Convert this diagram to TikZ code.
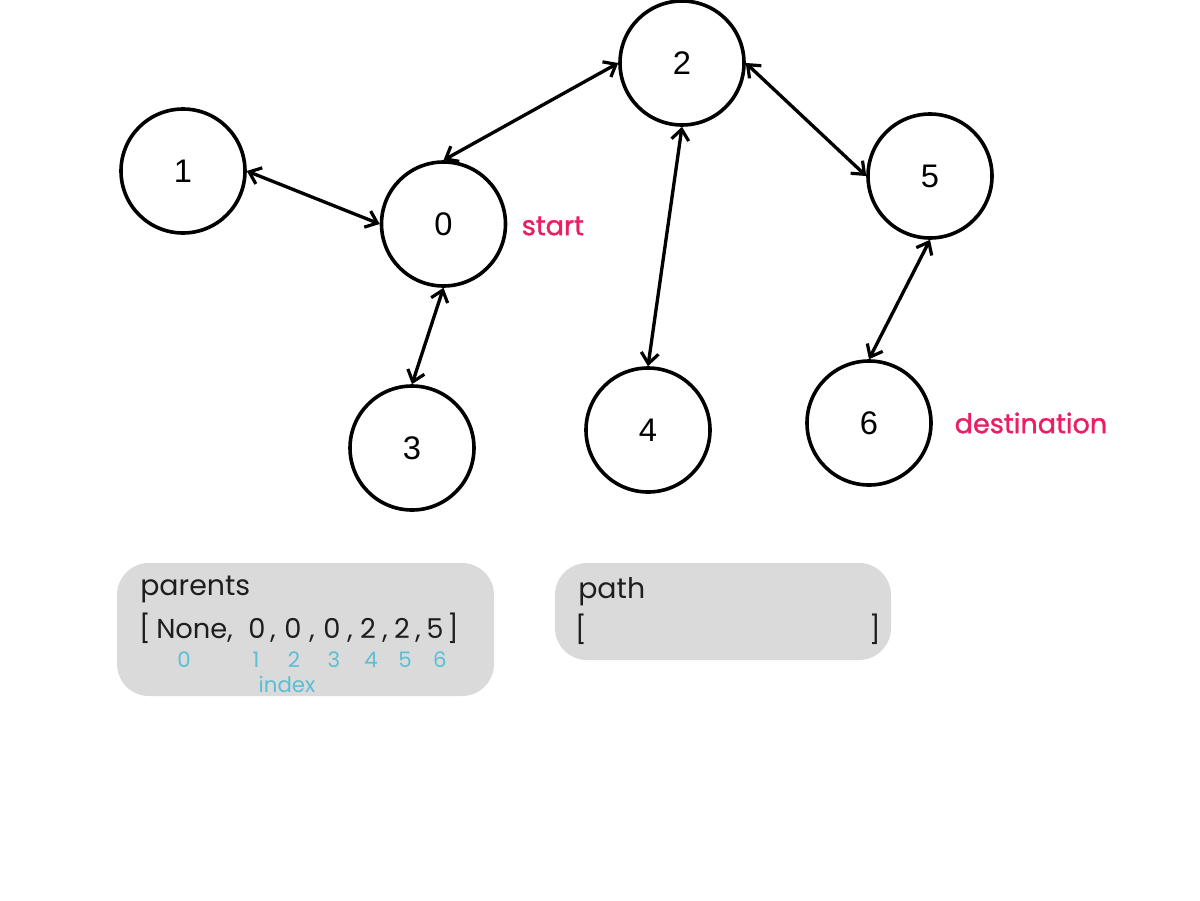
\documentclass[tikz,border=0pt]{standalone}
\usepackage{fontspec}
\setmainfont{Liberation Sans}
\newfontfamily\boxfont{Poppins}
\newfontfamily\tagfont[FakeBold=1.2]{Poppins}
\usetikzlibrary{arrows.meta}
\definecolor{tagpink}{RGB}{233,30,99}
\definecolor{idxblue}{RGB}{92,190,212}
\definecolor{panel}{RGB}{218,218,218}
\definecolor{ink}{RGB}{30,30,30}
\tikzset{
  vertex/.style={circle, draw=black, line width=2.7pt, minimum size=93pt, inner sep=0pt,
    font=\fontsize{24.5}{26}\selectfont},
  barb/.style={Straight Barb[length=8pt,width=13pt,line width=2.4pt]},
  link/.style={line width=2.5pt, {Straight Barb[length=8pt,width=13pt,line width=2.4pt]}-{Straight Barb[length=8pt,width=13pt,line width=2.4pt]}},
  tag/.style={anchor=west, text=tagpink, font=\tagfont\fontsize{20.3}{22}\selectfont},
  panelbox/.style={fill=panel, rounded corners=24pt},
  boxtext/.style={anchor=base west, text=ink, font=\boxfont\fontsize{21.3}{23}\selectfont, inner sep=0pt},
  token/.style={anchor=base, text=ink, font=\boxfont\fontsize{20.5}{22}\selectfont, inner sep=0pt},
  idx/.style={anchor=base, text=idxblue, font=\boxfont\fontsize{16}{17}\selectfont, inner sep=0pt},
}
\begin{document}
\begin{tikzpicture}[x=0.75pt, y=-0.75pt]
\useasboundingbox (0,0) rectangle (1200,900);

% graph vertices
\node[vertex] (n2) at (682,63) {2};
\node[vertex] (n1) at (183,171) {1};
\node[vertex] (n0) at (443.5,224) {0};
\node[vertex] (n5) at (930,176) {5};
\node[vertex] (n3) at (412,448) {3};
\node[vertex] (n4) at (648,430) {4};
\node[vertex] (n6) at (869,423) {6};

% undirected edges drawn with heads at both ends
\draw[link] (n1.east) -- (n0.west);
\draw[link] (n0.north) -- (n2.west);
\draw[link] (n0.south) -- (n3.north);
\draw[link] (n2.south) -- (n4.north);
\draw[link] (n2.east) -- (n5.west);
\draw[link] (n5.south) -- (n6.north);

% role labels
\node[tag] (start) at (517,226) {start};
\node[tag] (dest) at (950,423) {destination};

% parents array panel
\fill[panelbox] (117,563) rectangle (494,696);
\node[boxtext] (parentsLbl) at (140,595) {parents};
\foreach \px/\tx [count=\i] in {145/[, 257/0, 273/{,}, 293/0, 312/{,}, 332/0, 350/{,}, 368/2, 385/{,}, 402/2, 418/{,}, 435/5, 453/]}
  \node[token] (tok\i) at (\px,638) {\tx};
\node[token, anchor=base west] (noneTok) at (156,638) {None,};
\foreach \px/\tx in {184/0, 256/1, 294/2, 334/3, 371/4, 405/5, 440/6}
  \node[idx] (idx\tx) at (\px,667) {\tx};
\node[idx] (indexLbl) at (287,692) {index};

% path panel
\fill[panelbox] (555,563) rectangle (891,660);
\node[boxtext] (pathLbl) at (578,598) {path};
\node[token] (pathOpen) at (581,639) {[};
\node[token] (pathClose) at (875,639) {]};
\end{tikzpicture}
\end{document}
